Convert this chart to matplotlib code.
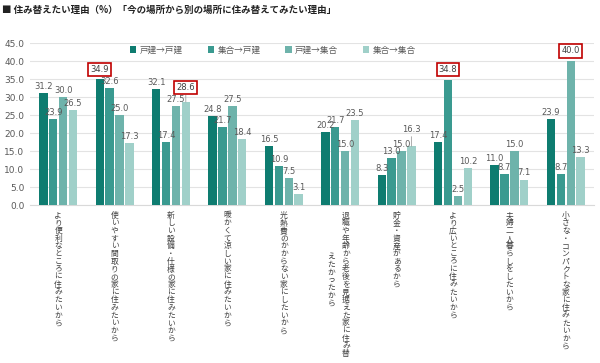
import matplotlib
matplotlib.use("Agg")
import matplotlib.pyplot as plt
import matplotlib.transforms as mtransforms
import numpy as np

plt.rcParams['font.family'] = ['Noto Sans CJK JP', 'DejaVu Sans']

categories = [
    "より便利なところに住みたいから",
    "使いやすい間取りの家に住みたいから",
    "新しい設備・仕様の家に住みたいから",
    "暖かくて涼しい家に住みたいから",
    "光熱費のかからない家にしたいから",
    "退職や年齢から老後を見据えた家に住み替えたかったから",
    "貯金・資産があるから",
    "より広いところに住みたいから",
    "夫婦二人暮らしをしたいから",
    "小さな・コンパクトな家に住みたいから",
]
series_names = ["戸建→戸建", "集合→戸建", "戸建→集合", "集合→集合"]
s1 = [31.2, 34.9, 32.1, 24.8, 16.5, 20.2, 8.3, 17.4, 11.0, 23.9]
s2 = [23.9, 32.6, 17.4, 21.7, 10.9, 21.7, 13.0, 34.8, 8.7, 8.7]
s3 = [30.0, 25.0, 27.5, 27.5, 7.5, 15.0, 15.0, 2.5, 15.0, 40.0]
s4 = [26.5, 17.3, 28.6, 18.4, 3.1, 23.5, 16.3, 10.2, 7.1, 13.3]
highlight = [(0, 1), (3, 2), (1, 7), (2, 9)]  # (series index, category index)
raised = [(3, 6)]  # labels lifted with a leader line
yticks = [0.0, 5.0, 10.0, 15.0, 20.0, 25.0, 30.0, 35.0, 40.0, 45.0]
title = "■ 住み替えたい理由（%）「今の場所から別の場所に住み替えてみたい理由」"

colors = ["#0e7c70", "#3a9a90", "#6eb3ab", "#a0d0c9"]
series = [s1, s2, s3, s4]

fig = plt.figure(figsize=(6.0, 3.63), dpi=100)
ax = fig.add_axes([0.05, 0.435, 0.94, 0.4465])

x = np.arange(len(categories))
bw = 0.15
step = 0.175
offsets = [(-1.5 + i) * step for i in range(4)]
hl = set(highlight)
rs = set(raised)
for i, (vals, c) in enumerate(zip(series, colors)):
    ax.bar(x + offsets[i], vals, width=bw, color=c, label=series_names[i], zorder=3)
    for j, v in enumerate(vals):
        xp = x[j] + offsets[i]
        if (i, j) in hl:
            lift = 7 if (i, j) == (3, 2) else 4
            ax.annotate(f"{v:.1f}", (xp, v), xytext=(0, lift),
                        textcoords="offset points", ha="center", va="bottom",
                        fontsize=6.0, color="#404040", family="DejaVu Sans",
                        bbox=dict(boxstyle="square,pad=0.25", fc="white", ec="#c00000", lw=1.2),
                        arrowprops=(dict(arrowstyle="-", color="#a0a0a0", lw=0.6,
                                         shrinkA=0, shrinkB=0) if lift > 4 else None),
                        zorder=5)
        elif (i, j) in rs:
            ax.annotate(f"{v:.1f}", (xp, v), xytext=(0, 9),
                        textcoords="offset points", ha="center", va="bottom",
                        fontsize=6.0, color="#595959", family="DejaVu Sans",
                        arrowprops=dict(arrowstyle="-", color="#a0a0a0", lw=0.6,
                                        shrinkA=0, shrinkB=0), zorder=5)
        else:
            ax.annotate(f"{v:.1f}", (xp, v), xytext=(0, 1.5),
                        textcoords="offset points", ha="center", va="bottom",
                        fontsize=6.0, color="#595959", family="DejaVu Sans", zorder=5)

ax.set_xlim(-0.5, len(categories) - 0.5)
ax.set_ylim(0, 45)
ax.set_yticks(yticks)
ax.set_yticklabels([f"{t:.1f}" for t in yticks], fontsize=6.5, color="#595959", family="DejaVu Sans")
ax.yaxis.grid(True, color="#e3e3e3", lw=0.8, zorder=0)
ax.tick_params(axis="y", length=0, pad=4)
ax.set_xticks([])
for s in ["top", "right", "left"]:
    ax.spines[s].set_visible(False)
ax.spines["bottom"].set_color("#d9d9d9")

# vertical (stacked) category labels
trans = mtransforms.blended_transform_factory(ax.transData, ax.transAxes)
ls = 0.95
for j, cat in enumerate(categories):
    if len(cat) > 20:
        right = cat[:19]
        left = cat[19:]
        ax.text(x[j] + 0.1, -0.04, "\n".join(right), transform=trans, ha="center", va="top",
                fontsize=5.6, color="#404040", linespacing=ls)
        ax.text(x[j] - 0.16, -0.04 - 0.5 * len(right) * 7.4 / (0.4465 * 363) + 0.01,
                "\n".join(left), transform=trans, ha="center", va="center",
                fontsize=5.6, color="#404040", linespacing=ls)
    else:
        ax.text(x[j], -0.04, "\n".join(cat), transform=trans, ha="center", va="top",
                fontsize=5.6, color="#404040", linespacing=ls)

fig.text(0.004, 0.972, title, fontsize=6.8, fontweight="bold", color="#222222", va="center", ha="left")

fig.legend(loc="center", bbox_to_anchor=(0.455, 1 - 50 / 363), ncol=4, frameon=False,
           fontsize=6.2, handlelength=0.7, handleheight=0.7, handletextpad=0.4,
           columnspacing=2.9, labelcolor="#595959")

fig.savefig("out.png", dpi=100)
